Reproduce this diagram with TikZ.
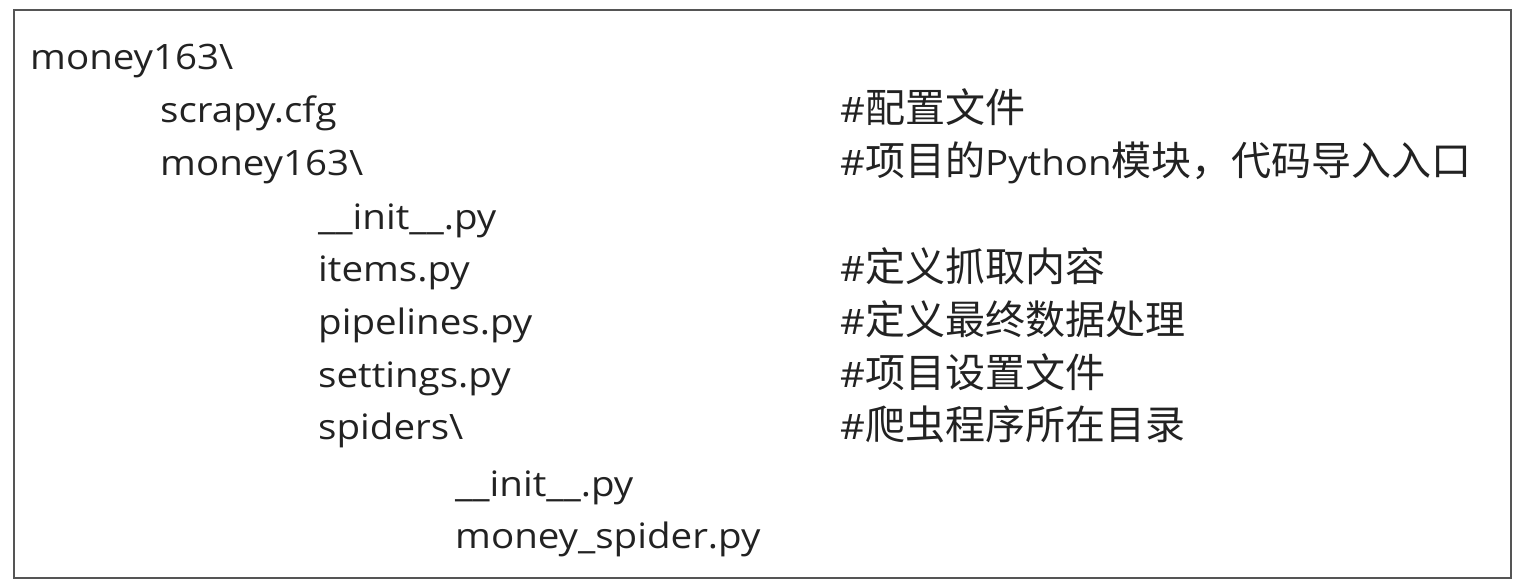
\documentclass[tikz,border=0pt]{standalone}
\usepackage{fontspec}
\setmainfont[FakeStretch=1.1]{Open Sans}
\newfontfamily\cjk{Noto Sans CJK SC}
\usetikzlibrary{positioning}
\definecolor{inkgray}{HTML}{222222}
\definecolor{framegray}{HTML}{555555}
\newcommand{\zh}[1]{{\cjk\fontsize{40}{44}\selectfont #1}}
\tikzset{
  entry/.style ={anchor=base west,inner sep=0pt,text=inkgray,font=\fontsize{35}{40}\selectfont},
  note/.style  ={entry},
  frame/.style ={draw=framegray,line width=2pt},
}

\begin{document}
\begin{tikzpicture}[x=1pt,y=-1pt]
  \useasboundingbox (0,0) rectangle (1524,586);
  \draw[frame] (14,10) rectangle (1511,578);
  % tree
  \node[entry] (root)     at (30,70)   {money163\textbackslash};
  \node[entry] (cfg)      at (160,122) {scrapy.cfg};
  \node[entry] (pkg)      at (160,175) {money163\textbackslash};
  \node[entry] (init)     at (318,229) {\_\_init\_\_.py};
  \node[entry] (items)    at (318,281) {items.py};
  \node[entry] (pipes)    at (318,334) {pipelines.py};
  \node[entry] (settings) at (318,387) {settings.py};
  \node[entry] (spiders)  at (318,439) {spiders\textbackslash};
  \node[entry] (spinit)   at (455,496) {\_\_init\_\_.py};
  \node[entry] (spider)   at (455,548) {money\_spider.py};
  % comments
  \node[note] (cfgnote)      at (840,122) {\#\zh{配置文件}};
  \node[note] (pkgnote)      at (840,175) {\#\zh{项目的}Python\zh{模块，代码导入入口}};
  \node[note] (itemsnote)    at (840,281) {\#\zh{定义抓取内容}};
  \node[note] (pipesnote)    at (840,334) {\#\zh{定义最终数据处理}};
  \node[note] (settingsnote) at (840,387) {\#\zh{项目设置文件}};
  \node[note] (spidersnote)  at (840,439) {\#\zh{爬虫程序所在目录}};
\end{tikzpicture}
\end{document}
